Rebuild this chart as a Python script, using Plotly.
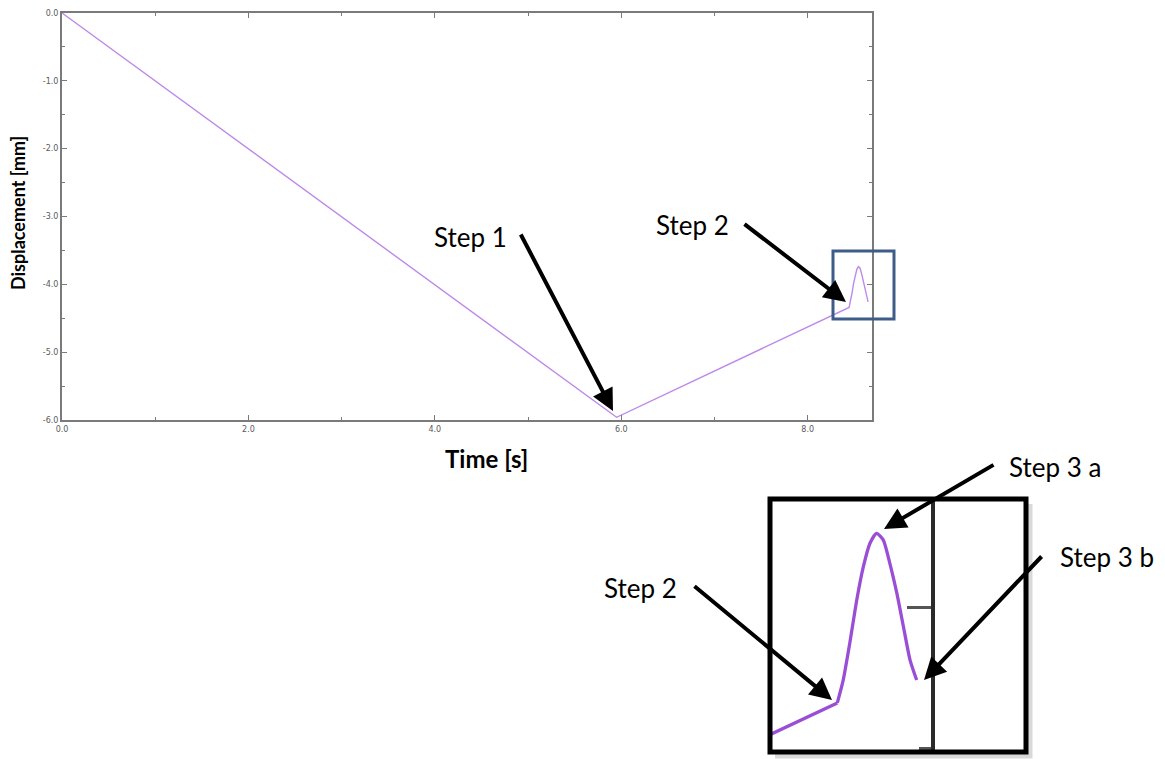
import plotly.graph_objects as go

# Displacement history: loading ramp (step 1), unloading (step 2), then the
# short rise and relaxation of step 3.
time_s = [0.0, 5.95, 8.444, 8.459, 8.477, 8.494, 8.511, 8.528, 8.545,
          8.562, 8.579, 8.597, 8.614, 8.631, 8.648]
displacement_mm = [0.0, -5.96, -4.34, -4.26, -4.12, -3.975, -3.857, -3.774,
                   -3.739, -3.762, -3.845, -3.951, -4.07, -4.188, -4.259]
STEP2_END = 2  # index where the unloading ramp ends and step 3 begins

x_ticks = [0.0, 2.0, 4.0, 6.0, 8.0]
x_tick_text = ["0.0", "2.0", "4.0", "6.0", "8.0"]
y_ticks = [0.0, -1.0, -2.0, -3.0, -4.0, -5.0, -6.0]
y_tick_text = ["0.0", "-1.0", "-2.0", "-3.0", "-4.0", "-5.0", "-6.0"]

X_RANGE = [0.0, 8.69]
Y_RANGE = [-6.0, 0.0]
ZOOM_X = [8.271, 8.929]
ZOOM_Y = [-4.514, -3.617]

W, H = 1165, 759


def px(x):
    return x / W


def py(y):
    return 1 - y / H


main_dom_x = [px(62), px(872)]
main_dom_y = [py(420), py(13)]
zoom_dom_x = [px(770), px(1026)]
zoom_dom_y = [py(752), py(499)]

# where the main plot's right edge falls inside the magnified view
edge_pos = zoom_dom_x[0] + (X_RANGE[1] - ZOOM_X[0]) / (ZOOM_X[1] - ZOOM_X[0]) * (
    zoom_dom_x[1] - zoom_dom_x[0])

zoom_color = "#9a4ed6"
fig = go.Figure()
fig.add_trace(go.Scatter(x=time_s, y=displacement_mm, mode="lines",
                         line=dict(color="#bd8ae8", width=1.4),
                         xaxis="x", yaxis="y", hoverinfo="skip"))
# magnified view: straight ramp up to the kink, smooth step-3 hump after it
fig.add_trace(go.Scatter(x=time_s[:STEP2_END + 1],
                         y=displacement_mm[:STEP2_END + 1], mode="lines",
                         line=dict(color=zoom_color, width=3.3),
                         xaxis="x2", yaxis="y2", hoverinfo="skip"))
fig.add_trace(go.Scatter(x=time_s[STEP2_END:], y=displacement_mm[STEP2_END:],
                         mode="lines",
                         line=dict(color=zoom_color, width=3.3,
                                   shape="spline", smoothing=0.6),
                         xaxis="x2", yaxis="y2", hoverinfo="skip"))

axis_grey = "#7a7a7a"
tick_font = dict(family="DejaVu Sans", size=8, color="#5a5a5a")

fig.update_layout(
    width=W, height=H,
    margin=dict(l=0, r=0, t=0, b=0),
    paper_bgcolor="white", plot_bgcolor="white",
    showlegend=False,
    xaxis=dict(domain=main_dom_x, range=X_RANGE, anchor="y",
               showgrid=False, zeroline=False, automargin=False,
               showline=True, linecolor=axis_grey, linewidth=2, mirror="ticks",
               ticks="inside", ticklen=5, tickwidth=1, tickcolor=axis_grey,
               tickmode="array", tickvals=x_ticks, ticktext=x_tick_text,
               tickfont=tick_font,
               minor=dict(ticks="inside", ticklen=3, tickcolor=axis_grey,
                          tickmode="linear", tick0=1.0, dtick=2.0)),
    yaxis=dict(domain=main_dom_y, range=Y_RANGE, anchor="x",
               showgrid=False, zeroline=False, automargin=False,
               showline=True, linecolor=axis_grey, linewidth=2, mirror="ticks",
               ticks="inside", ticklen=5, tickwidth=1, tickcolor=axis_grey,
               tickmode="array", tickvals=y_ticks, ticktext=y_tick_text,
               tickfont=tick_font,
               minor=dict(ticks="inside", ticklen=3, tickcolor=axis_grey,
                          tickmode="linear", tick0=-0.5, dtick=1.0)),
    xaxis2=dict(domain=zoom_dom_x, range=ZOOM_X, anchor="y2",
                visible=False, automargin=False),
    yaxis2=dict(domain=zoom_dom_y, range=ZOOM_Y, anchor="free",
                position=edge_pos, side="right",
                showgrid=False, zeroline=False, automargin=False,
                showline=True, linecolor="#2a2a2a", linewidth=3.5,
                ticks="inside", ticklen=24, tickwidth=3, tickcolor="#555555",
                tickmode="linear", tick0=-4.0, dtick=1.0, showticklabels=False,
                minor=dict(ticks="inside", ticklen=12, tickwidth=3,
                           tickcolor="#555555", tickmode="linear",
                           tick0=-4.5, dtick=1.0)),
)

shadow_path = "M {} {} L {} {} L {} {}".format(
    px(1030), py(504), px(1030), py(756), px(775), py(756))
shapes = [
    # highlight of the region shown magnified
    dict(type="rect", xref="paper", yref="paper",
         x0=px(833), x1=px(894), y0=py(319), y1=py(251),
         line=dict(color="#3d5c88", width=3), fillcolor="rgba(0,0,0,0)"),
    # soft shadow along the right and bottom of the magnified view
    dict(type="path", xref="paper", yref="paper", path=shadow_path,
         line=dict(color="rgba(0,0,0,0.15)", width=5), layer="below"),
    dict(type="rect", xref="paper", yref="paper",
         x0=px(770), x1=px(1026), y0=py(752), y1=py(499),
         line=dict(color="black", width=5), fillcolor="rgba(0,0,0,0)"),
]
fig.update_layout(shapes=shapes)

label_font = dict(family="Lato", size=26, color="black")
annotations = [
    dict(text="<b>Displacement [mm]</b>", x=px(18), y=py(213), textangle=-90,
         font=dict(family="Lato", size=18, color="black")),
    dict(text="<b>Time [s]</b>", x=px(486), y=py(458),
         font=dict(family="Lato", size=24, color="black")),
    dict(text="Step 1", x=px(470), y=py(237), font=label_font),
    dict(text="Step 2", x=px(692), y=py(225), font=label_font),
    dict(text="Step 3 a", x=px(1055), y=py(467), font=label_font),
    dict(text="Step 2", x=px(641), y=py(588), font=label_font),
    dict(text="Step 3 b", x=px(1107), y=py(557), font=label_font),
]
for a in annotations:
    a.update(xref="paper", yref="paper", showarrow=False,
             xanchor="center", yanchor="middle")

# arrows: (tail, head) in page pixels
arrows = [
    ((520, 233), (613, 411)),
    ((743, 223), (846, 302)),
    ((995, 464), (884, 529)),
    ((693, 585), (832, 700)),
    ((1043, 555), (924, 680)),
]
for (tx, ty), (hx, hy) in arrows:
    annotations.append(dict(
        text="", xref="paper", yref="paper", x=px(hx), y=py(hy),
        ax=tx - hx, ay=ty - hy, axref="pixel", ayref="pixel",
        showarrow=True, arrowhead=2, arrowsize=1.1, arrowwidth=4,
        arrowcolor="black", standoff=0, startstandoff=0))

fig.update_layout(annotations=annotations)

fig.write_html("out.html")
